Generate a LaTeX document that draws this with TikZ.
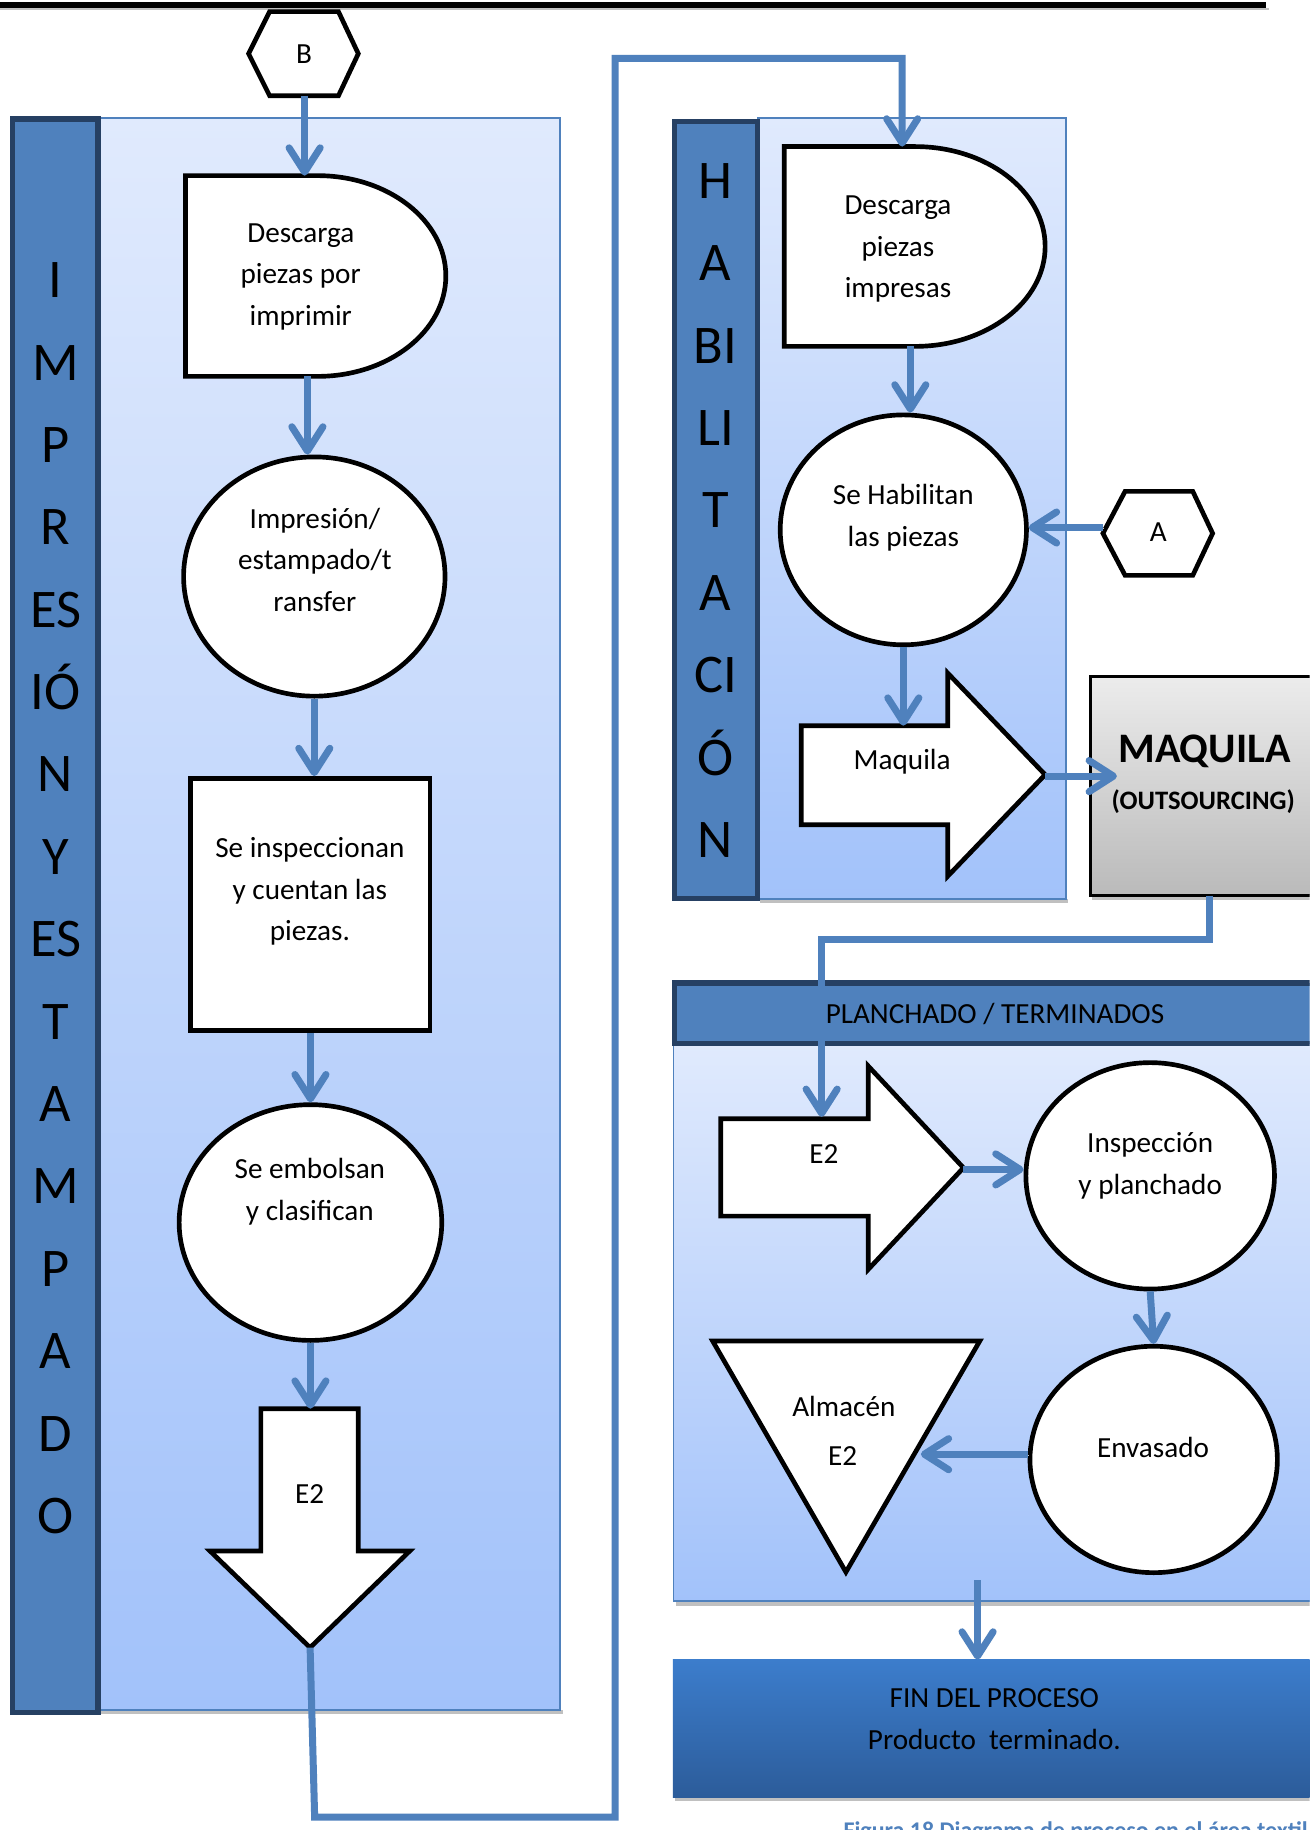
\documentclass[tikz,border=0pt]{standalone}
\usepackage{fontspec}
\setmainfont{Carlito}
\usetikzlibrary{arrows.meta,calc,shapes.geometric}
\definecolor{bandblue}{RGB}{79,129,189}
\definecolor{banddark}{RGB}{38,64,99}
\definecolor{linkblue}{RGB}{79,129,189}
\definecolor{paneltop}{RGB}{224,234,253}
\definecolor{panelbot}{RGB}{162,194,250}
\definecolor{fintop}{RGB}{60,125,204}
\definecolor{finbot}{RGB}{44,92,154}
\definecolor{shadowgray}{RGB}{150,150,150}
\definecolor{captionblue}{RGB}{79,129,189}
\definecolor{boxtop}{RGB}{236,236,236}
\definecolor{boxbot}{RGB}{186,186,186}

\tikzset{
  flow/.style={draw=black, line width=2.4pt, fill=white, line join=miter},
  proc/.style={ellipse, draw=black, line width=2.4pt, fill=white, inner sep=0pt},
  band/.style={fill=bandblue, draw=banddark, line width=2.7pt},
  panel/.style={top color=paneltop, bottom color=panelbot, draw=bandblue, line width=0.9pt},
  dropshade/.style={fill=shadowgray!60},
  link/.style={draw=linkblue, line width=3.6pt, line join=miter,
    -{Straight Barb[round,length=12.5pt,width=16pt]},
    preaction={draw=shadowgray!55, transform canvas={shift={(0.6pt,-0.7pt)}}}},
  txt/.style={font=\fontsize{15}{21.3}\selectfont, align=center, inner sep=0pt},
  bandletter/.style={font=\fontsize{28}{30}\selectfont, anchor=base, inner sep=0pt},
}

\begin{document}
\begin{tikzpicture}[x=0.6pt,y=-0.6pt]
\useasboundingbox (0,0) rectangle (1122,1568);
\clip (0,0) rectangle (1122,1568);
\fill[white] (0,0) rectangle (1122,1568);

% header rule
\fill[dropshade] (0,6.5) rectangle (1087,9);
\draw[line width=3.3pt] (0,4.3) -- (1085,4.3);

% ---------- lane: IMPRESION Y ESTAMPADO ----------
\fill[dropshade] (86,1465) rectangle (482,1469);
\path[panel] (84,101) rectangle (480,1465);
\path[band] (11,102) rectangle (84,1467);
\foreach \l [count=\k from 0] in {I,M,P,R,ES,IÓ,N,Y,ES,T,A,M,P,A,D,O}
  \node[bandletter] (imp-\k) at (47.6,{255+70.6*\k}) {\l};

% ---------- lane: HABILITACION ----------
\fill[dropshade] (651,770) rectangle (915,773.5);
\path[panel] (649,101) rectangle (913.6,770);
\path[band] (577.7,104) rectangle (648.8,770);
\foreach \l [count=\k from 0] in {H,A,BI,LI,T,A,CI,Ó,N}
  \node[bandletter] (hab-\k) at (613,{170+70.6*\k}) {\l};

% ---------- lane: PLANCHADO / TERMINADOS ----------
\fill[dropshade] (579,1372) rectangle (1140,1376);
\path[panel] (577,894) rectangle (1140,1372);
\path[band] (577.7,842.2) rectangle (1140,894);
\node[txt] (plan-t) at (852.5,868.5) {PLANCHADO / TERMINADOS};

% ---------- end of process ----------
\fill[dropshade] (578,1540) rectangle (1140,1543.5);
\path[top color=fintop, bottom color=finbot] (576.5,1422) rectangle (1140,1540);
\node[txt] (fin-t) at (852,1473) {FIN DEL PROCESO\\Producto~ terminado.};
\coordinate (fin-n) at (837.6,1422);

% ---------- outsourcing box ----------
\fill[dropshade] (936,767.5) rectangle (1140,771);
\path[top color=boxtop, bottom color=boxbot, draw=black, line width=1.5pt]
  (934,579.5) rectangle (1130,767.5);
\node[font=\fontsize{21.6}{24}\selectfont\bfseries, inner sep=0pt] (maq-t) at (1032,644) {MAQUILA};
\node[font=\fontsize{13.7}{16}\selectfont\bfseries, inner sep=0pt] (out-t) at (1031,687) {(OUTSOURCING)};
\coordinate (out-w) at (934,665);
\coordinate (out-s) at (1036,767.5);

% ---------- connector B ----------
\draw[flow] (213,46) -- (231,10) -- (290,10) -- (307,46) -- (290,82) -- (231,82) -- cycle;
\node[txt] (hexB) at (260.5,46) {B};
\coordinate (hexB-s) at (261,82);

% ---------- shapes of the first lane ----------
\draw[flow] (159,150.5) -- (272,150.5)
  arc[start angle=-90, end angle=90, x radius=110, y radius=86] -- (159,322.5) -- cycle;
\node[txt] (d1) at (257.7,237) {Descarga\\piezas por\\imprimir};
\coordinate (d1-n) at (261,150.5);
\coordinate (d1-s) at (263.4,322.5);

\node[proc, minimum width=134.4pt, minimum height=123pt] (imp) at (269.3,494) {};
\node[txt] (imp-t) at (269.8,479.5) {Impresión/\\estampado/t\\ransfer};

\node[draw=black, line width=2.4pt, fill=white, rectangle, minimum width=123pt,
  minimum height=129.6pt, inner sep=0pt] (insp) at (266,775) {};
\node[txt] (insp-t) at (265.5,764) {Se inspeccionan\\y cuentan las\\piezas.};

\node[proc, minimum width=135pt, minimum height=121.2pt] (emb) at (266,1047.5) {};
\node[txt] (emb-t) at (265.5,1021) {Se embolsan\\y clasifican};

\draw[flow] (223.5,1207) -- (307,1207) -- (307,1329) -- (351,1329) -- (265.7,1411.7)
  -- (180,1329) -- (223.5,1329) -- cycle;
\node[txt] (e2) at (265.4,1280) {E2};
\coordinate (e2-n) at (266,1207);
\coordinate (e2-s) at (265.7,1411.7);

% ---------- shapes of the second lane ----------
\draw[flow] (672,125.6) -- (784,125.6)
  arc[start angle=-90, end angle=90, x radius=111.5, y radius=85.6] -- (672,296.8) -- cycle;
\node[txt] (d2) at (769.4,213.5) {Descarga\\piezas\\impresas};
\coordinate (d2-n) at (773,125.6);
\coordinate (d2-s) at (780,296.8);

\node[proc, minimum width=126.6pt, minimum height=118.2pt] (hab) at (774,454) {};
\node[txt] (hab-t) at (774,443.5) {Se Habilitan\\las piezas};

\draw[flow] (945,457) -- (964,421) -- (1022,421) -- (1039,457) -- (1022,493) -- (964,493) -- cycle;
\node[txt] (hexA) at (992.5,456) {A};
\coordinate (hexA-w) at (945,452);

\draw[flow] (686.5,621.8) -- (812,621.8) -- (812,576.7) -- (895.5,663.8) -- (812,750.8)
  -- (812,706.6) -- (686.5,706.6) -- cycle;
\node[txt] (maq) at (773,652.5) {Maquila};
\coordinate (maq-n) at (774,621.8);
\coordinate (maq-e) at (895.5,665);

% ---------- shapes of the third lane ----------
\draw[flow] (617.5,958.6) -- (744,958.6) -- (744,913.5) -- (825.5,1000.6) -- (744,1087.6)
  -- (744,1042) -- (617.5,1042) -- cycle;
\node[txt] (e2b) at (706,989) {E2};
\coordinate (e2b-n) at (704,957);
\coordinate (e2b-e) at (825.5,1002);

\node[proc, minimum width=127.8pt, minimum height=116.4pt] (ins2) at (985.5,1007.5) {};
\node[txt] (ins2-t) at (985.5,999) {Inspección\\y planchado};

\node[proc, minimum width=127.2pt, minimum height=116.4pt] (env) at (988.5,1250.5) {};
\node[txt] (env-t) at (988,1240) {Envasado};

\draw[flow] (610.6,1149) -- (839.5,1149) -- (724.8,1347) -- cycle;
\node[txt] (alm-1) at (723,1205) {Almacén};
\node[txt] (alm-2) at (722,1247.5) {E2};
\coordinate (alm-e) at (789,1246);
\coordinate (plan-s) at (837.6,1354);

% ---------- connectors ----------
\draw[link] (hexB-s) -- (d1-n);
\draw[link] (d1-s) -- (d1-s |- imp.north);
\draw[link] (imp.south) -- (imp.south |- insp.north);
\draw[link] (insp.south) -- (insp.south |- emb.north);
\draw[link] (emb.south) -- (emb.south |- e2-n);
\draw[link] (e2-s) -- (269.6,1557) -- (527,1557) -- (527,50) -- (773,50) -- (d2-n);
\draw[link] (d2-s) -- (d2-s |- hab.north);
\draw[link] (hexA-w) -- (hexA-w -| hab.east);
\draw[link] (hab.south) -- (hab.south |- maq-n);
\draw[link] (maq-e) -- ($(maq-e -| out-w)+(23,0)$);
\draw[link] (out-s) -- (1036,805) -- (704,805) -- (e2b-n);
\draw[link] (e2b-e) -- (e2b-e -| ins2.west);
\draw[link] (ins2.south) -- (env.north);
\draw[link] (env.west |- alm-e) -- (alm-e);
\draw[link] (plan-s) -- (fin-n);

% ---------- caption ----------
\node[anchor=base west, font=\fontsize{12.3}{14}\selectfont\bfseries, text=captionblue,
  inner sep=0pt] (cap) at (722.5,1575) {Figura 18 Diagrama de proceso en el área textil};
\end{tikzpicture}
\end{document}
